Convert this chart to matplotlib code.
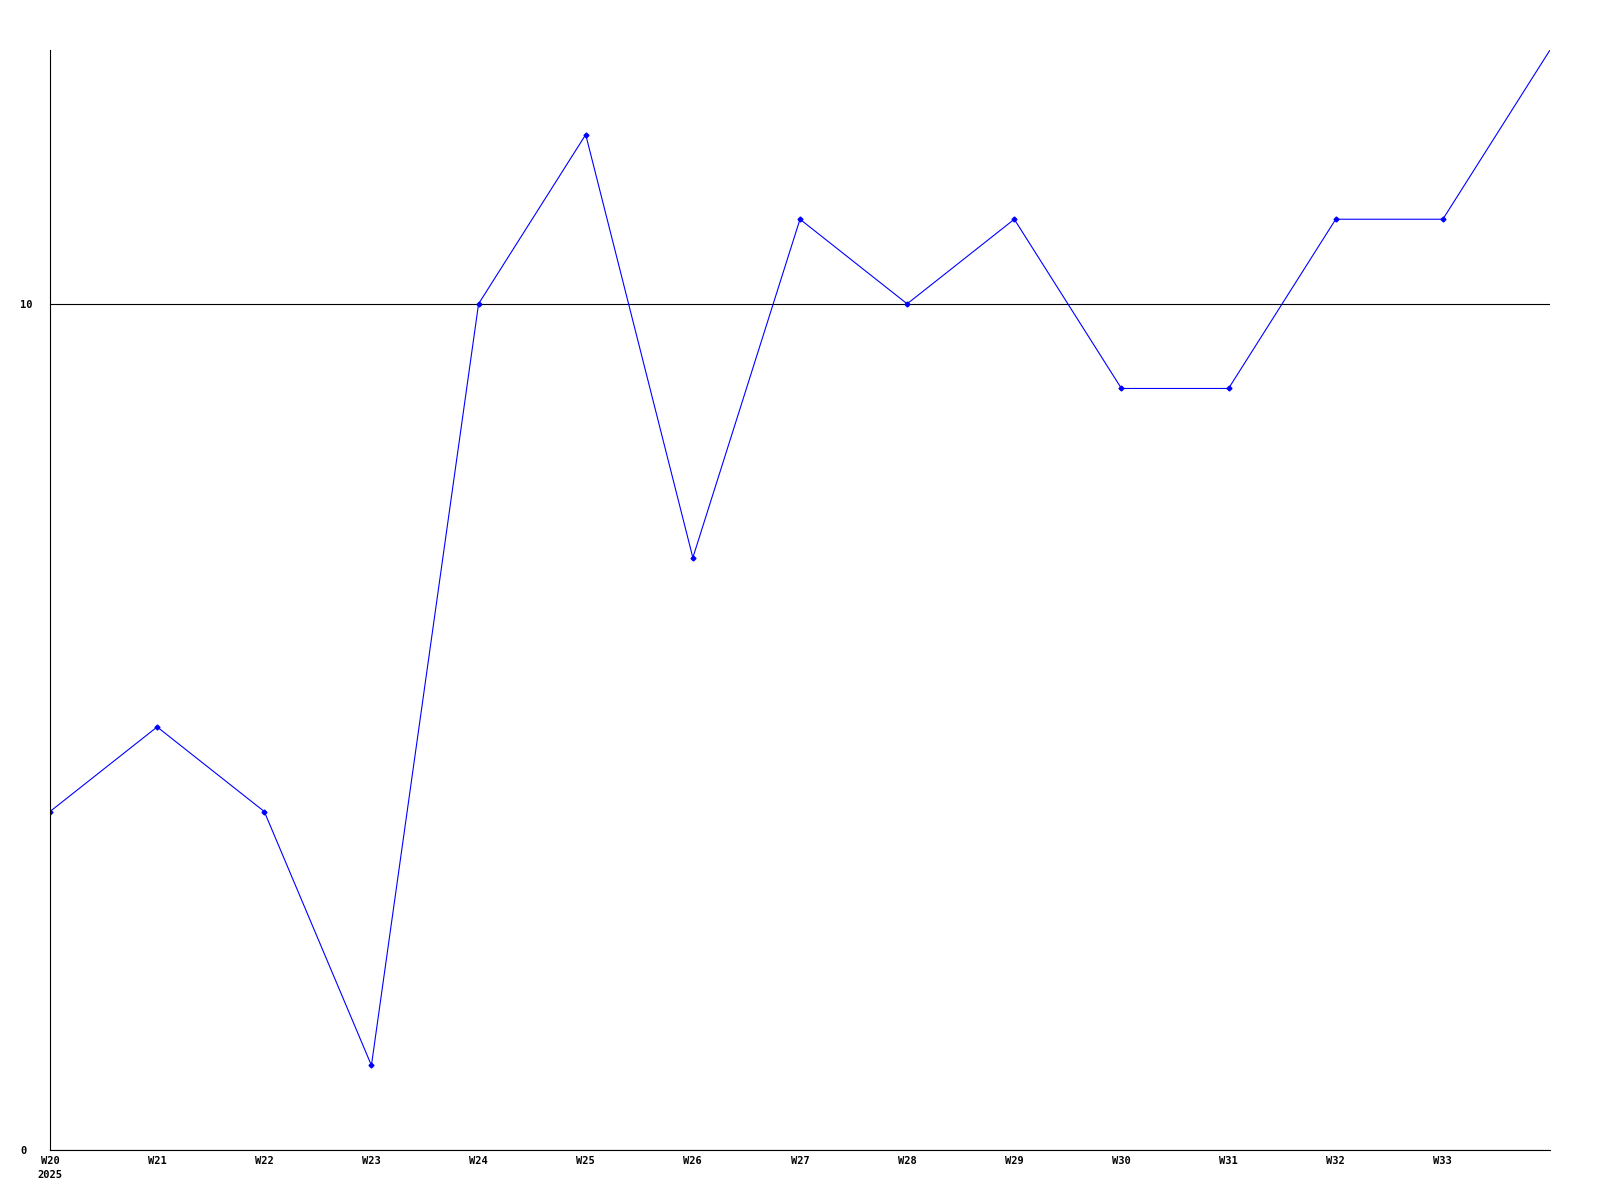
import matplotlib
matplotlib.use("Agg")
import matplotlib.pyplot as plt

weeks = ["W20", "W21", "W22", "W23", "W24", "W25", "W26", "W27",
         "W28", "W29", "W30", "W31", "W32", "W33", "W34"]
values = [4, 5, 4, 1, 10, 12, 7, 11, 10, 11, 9, 9, 11, 11, 13]
tick_labels = ["W20\n2025"] + weeks[1:14]
y_ticks = [0, 10]

plt.rcParams["font.family"] = ["DejaVu Sans Mono"]

fig = plt.figure(figsize=(16, 12), dpi=100)
ax = fig.add_axes([50 / 1600, 50 / 1200, 1500 / 1600, 1100 / 1200])

x = list(range(len(weeks)))
ax.plot(x, values, color="#0000ff", linewidth=0.8, marker="D", markersize=2.5,
        markevery=list(range(len(weeks) - 1)))

ax.set_xlim(0, len(weeks) - 1)
ax.set_ylim(0, 13)

ax.set_xticks(x[:14])
ax.set_xticklabels(tick_labels, fontsize=7.5, fontweight="bold", linespacing=1.5,
                   verticalalignment="top")
ax.set_yticks(y_ticks)
ax.set_yticklabels([str(v) for v in y_ticks], fontsize=7.5, fontweight="bold",
                   horizontalalignment="left")
ax.tick_params(axis="x", length=0, pad=4)
ax.tick_params(axis="y", length=0, pad=21.5)

ax.yaxis.grid(True, color="black", linewidth=0.8)
ax.set_axisbelow(True)
for side in ["top", "right"]:
    ax.spines[side].set_visible(False)
for side in ["left", "bottom"]:
    ax.spines[side].set_color("black")
    ax.spines[side].set_linewidth(0.8)

fig.savefig("out.png", dpi=100, facecolor="white")
